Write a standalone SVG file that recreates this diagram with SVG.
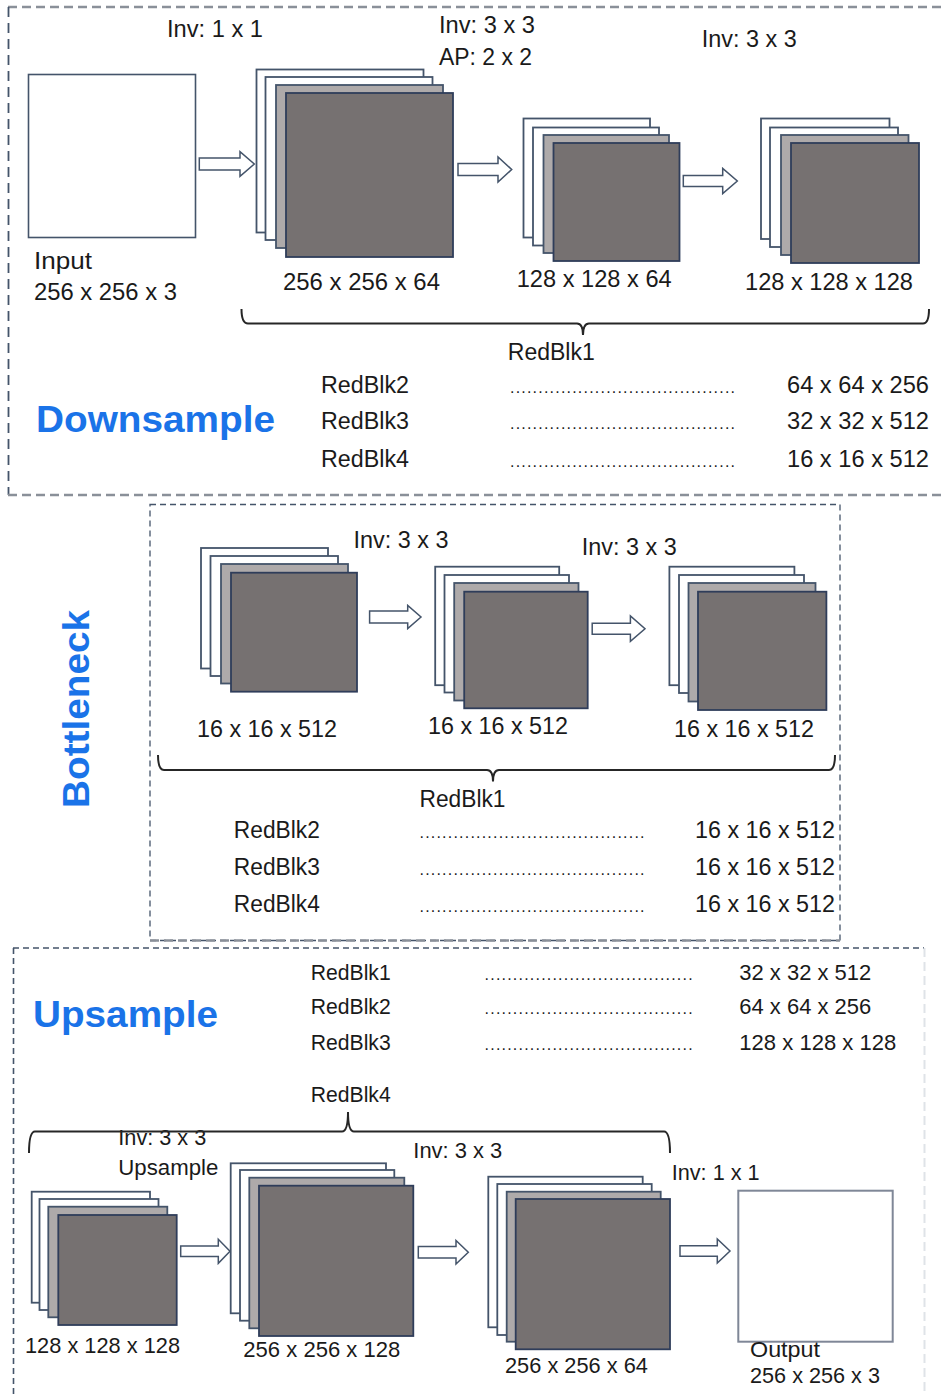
<svg xmlns="http://www.w3.org/2000/svg" width="944" height="1395" viewBox="0 0 944 1395">
  <style>
    .bg { fill: #ffffff; }
    .l1 { fill: #ffffff; stroke: #44546a; stroke-width: 1.8; }
    .l2 { fill: #ffffff; stroke: #44546a; stroke-width: 1.8; }
    .l3 { fill: #aeaaaa; stroke: #44546a; stroke-width: 1.8; }
    .l4 { fill: #767171; stroke: #2f3d5a; stroke-width: 1.8; }
    .io { fill: #ffffff; stroke: #44546a; stroke-width: 1.6; }
    .io-out { fill: #ffffff; stroke: #7f8797; stroke-width: 2; }
    .arrow { fill: #ffffff; stroke: #44546a; stroke-width: 1.5; stroke-linejoin: miter; }
    .brace { fill: none; stroke: #262626; stroke-width: 2; }
    .fr-gray { fill: none; stroke: #8a9099; stroke-width: 2.4; stroke-dasharray: 9 5; }
    .fr-dark { fill: none; stroke: #44546a; stroke-width: 1.8; stroke-dasharray: 10 6; }
    .fr-thin { fill: none; stroke: #44546a; stroke-width: 1.3; stroke-dasharray: 6 4; }
    .fr-light { fill: none; stroke: #dfe3e8; stroke-width: 2; stroke-dasharray: 9 5; }
    text { font-family: "Liberation Sans", Arial, sans-serif; fill: #1a1a1a; }
    .t { font-size: 23.5px; }
    .s { font-size: 22px; }
    .dots { font-size: 16px; }
    .title { font-family: "Liberation Sans", Arial, sans-serif; font-weight: bold; font-size: 37px; fill: #1a73e8; }
  </style>

  <rect class="bg" x="0" y="0" width="944" height="1395"/>

  <!-- section frames -->
  <g id="frames">
    <line class="fr-gray" x1="8" y1="7" x2="944" y2="7"/>
    <line class="fr-dark" x1="8.5" y1="7" x2="8.5" y2="495"/>
    <line class="fr-gray" x1="8" y1="495" x2="944" y2="495"/>

    <rect class="fr-thin" x="150" y="504.5" width="690" height="436"/>
    <line class="fr-gray" x1="150" y1="940.5" x2="840" y2="940.5"/>

    <line class="fr-thin" x1="13" y1="948" x2="924" y2="948" style="stroke-width:1.6"/>
    <line class="fr-thin" x1="13.5" y1="948" x2="13.5" y2="1395" style="stroke-width:1.6"/>
    <line class="fr-light" x1="924.5" y1="948" x2="924.5" y2="1395"/>
  </g>

  <!-- ===== Downsample ===== -->
  <g id="downsample-title">
    <text class="title" x="36" y="432" textLength="239" lengthAdjust="spacingAndGlyphs">Downsample</text>
  </g>

  <g id="input">
    <rect class="io" x="28.5" y="74.5" width="167" height="163"/>
    <text class="t" x="34" y="269" textLength="58" lengthAdjust="spacingAndGlyphs">Input</text>
    <text class="t" x="34" y="300" textLength="143" lengthAdjust="spacingAndGlyphs">256 x 256 x 3</text>
  </g>

  <g id="down-fm1">
    <rect class="l1" x="256.5" y="69.5" width="167" height="163"/>
    <rect class="l2" x="265.5" y="77" width="167" height="163"/>
    <rect class="l3" x="276" y="85" width="167" height="163"/>
    <rect class="l4" x="286" y="93" width="167" height="164"/>
    <text class="t" x="283" y="290" textLength="157" lengthAdjust="spacingAndGlyphs">256 x 256 x 64</text>
  </g>

  <g id="down-fm2">
    <rect class="l1" x="523.5" y="118.5" width="126.5" height="119"/>
    <rect class="l2" x="533" y="127.5" width="126" height="118"/>
    <rect class="l3" x="543.5" y="135" width="125.5" height="118"/>
    <rect class="l4" x="553.5" y="143" width="126" height="118"/>
    <text class="t" x="516.7" y="287" textLength="155" lengthAdjust="spacingAndGlyphs">128 x 128 x 64</text>
  </g>

  <g id="down-fm3">
    <rect class="l1" x="761" y="118.5" width="128.5" height="120.5"/>
    <rect class="l2" x="770" y="127.5" width="128" height="119.5"/>
    <rect class="l3" x="781" y="135" width="127.5" height="120"/>
    <rect class="l4" x="791" y="143" width="128" height="120"/>
    <text class="t" x="745" y="290" textLength="168" lengthAdjust="spacingAndGlyphs">128 x 128 x 128</text>
  </g>

  <g id="down-ops">
    <text class="t" x="167" y="37" textLength="96" lengthAdjust="spacingAndGlyphs">Inv: 1 x 1</text>
    <text class="t" x="439" y="33" textLength="96" lengthAdjust="spacingAndGlyphs">Inv: 3 x 3</text>
    <text class="t" x="439" y="65" textLength="93" lengthAdjust="spacingAndGlyphs">AP: 2 x 2</text>
    <text class="t" x="701.7" y="47" textLength="95" lengthAdjust="spacingAndGlyphs">Inv: 3 x 3</text>
  </g>

  <g id="down-blocks">
    <text class="t" x="507.8" y="360" textLength="87" lengthAdjust="spacingAndGlyphs">RedBlk1</text>
    <text class="t" x="321" y="393" textLength="88" lengthAdjust="spacingAndGlyphs">RedBlk2</text>
    <text class="t" x="321" y="429" textLength="88" lengthAdjust="spacingAndGlyphs">RedBlk3</text>
    <text class="t" x="321" y="467" textLength="88" lengthAdjust="spacingAndGlyphs">RedBlk4</text>
    <text class="dots" x="510" y="393" textLength="225" lengthAdjust="spacing">........................................</text>
    <text class="dots" x="510" y="429" textLength="225" lengthAdjust="spacing">........................................</text>
    <text class="dots" x="510" y="467" textLength="225" lengthAdjust="spacing">........................................</text>
    <text class="t" x="787" y="393" textLength="142" lengthAdjust="spacingAndGlyphs">64 x 64 x 256</text>
    <text class="t" x="787" y="429" textLength="142" lengthAdjust="spacingAndGlyphs">32 x 32 x 512</text>
    <text class="t" x="787" y="467" textLength="142" lengthAdjust="spacingAndGlyphs">16 x 16 x 512</text>
  </g>

  <!-- ===== Bottleneck ===== -->
  <g id="bottleneck-title">
    <text class="title" transform="translate(89,808) rotate(-90)" x="0" y="0" textLength="198" lengthAdjust="spacingAndGlyphs">Bottleneck</text>
  </g>

  <g id="bottle-fm1">
    <rect class="l1" x="201" y="548" width="127" height="120.5"/>
    <rect class="l2" x="210.5" y="556" width="127.5" height="120"/>
    <rect class="l3" x="221" y="564" width="127" height="119.5"/>
    <rect class="l4" x="231" y="572.7" width="126" height="119"/>
    <text class="t" x="197" y="737" textLength="140" lengthAdjust="spacingAndGlyphs">16 x 16 x 512</text>
  </g>

  <g id="bottle-fm2">
    <rect class="l1" x="435.2" y="566.7" width="124" height="118.5"/>
    <rect class="l2" x="444.5" y="575" width="124.5" height="117.5"/>
    <rect class="l3" x="454.2" y="583" width="124.3" height="117.5"/>
    <rect class="l4" x="464.2" y="591.7" width="123.5" height="116.6"/>
    <text class="t" x="428" y="734" textLength="140" lengthAdjust="spacingAndGlyphs">16 x 16 x 512</text>
  </g>

  <g id="bottle-fm3">
    <rect class="l1" x="669.4" y="566.7" width="125" height="118.5"/>
    <rect class="l2" x="679" y="575" width="125" height="118"/>
    <rect class="l3" x="688.5" y="583" width="127" height="118.5"/>
    <rect class="l4" x="698" y="591.7" width="128.4" height="118.3"/>
    <text class="t" x="674" y="737" textLength="140" lengthAdjust="spacingAndGlyphs">16 x 16 x 512</text>
  </g>

  <g id="bottle-ops">
    <text class="t" x="353.5" y="548" textLength="95" lengthAdjust="spacingAndGlyphs">Inv: 3 x 3</text>
    <text class="t" x="581.7" y="555" textLength="95" lengthAdjust="spacingAndGlyphs">Inv: 3 x 3</text>
  </g>

  <g id="bottle-blocks">
    <text class="t" x="419.5" y="807" textLength="86" lengthAdjust="spacingAndGlyphs">RedBlk1</text>
    <text class="t" x="233.8" y="838" textLength="86" lengthAdjust="spacingAndGlyphs">RedBlk2</text>
    <text class="t" x="233.8" y="875" textLength="86" lengthAdjust="spacingAndGlyphs">RedBlk3</text>
    <text class="t" x="233.8" y="912" textLength="86" lengthAdjust="spacingAndGlyphs">RedBlk4</text>
    <text class="dots" x="419.5" y="838" textLength="225" lengthAdjust="spacing">........................................</text>
    <text class="dots" x="419.5" y="875" textLength="225" lengthAdjust="spacing">........................................</text>
    <text class="dots" x="419.5" y="912" textLength="225" lengthAdjust="spacing">........................................</text>
    <text class="t" x="695" y="838" textLength="140" lengthAdjust="spacingAndGlyphs">16 x 16 x 512</text>
    <text class="t" x="695" y="875" textLength="140" lengthAdjust="spacingAndGlyphs">16 x 16 x 512</text>
    <text class="t" x="695" y="912" textLength="140" lengthAdjust="spacingAndGlyphs">16 x 16 x 512</text>
  </g>

  <!-- ===== Upsample ===== -->
  <g id="upsample-title">
    <text class="title" x="33" y="1027" textLength="185" lengthAdjust="spacingAndGlyphs">Upsample</text>
  </g>

  <g id="up-blocks">
    <text class="s" x="310.7" y="980" textLength="80" lengthAdjust="spacingAndGlyphs">RedBlk1</text>
    <text class="s" x="310.7" y="1014" textLength="80" lengthAdjust="spacingAndGlyphs">RedBlk2</text>
    <text class="s" x="310.7" y="1050" textLength="80" lengthAdjust="spacingAndGlyphs">RedBlk3</text>
    <text class="dots" x="484.6" y="980" textLength="208" lengthAdjust="spacing">.....................................</text>
    <text class="dots" x="484.6" y="1014" textLength="208" lengthAdjust="spacing">.....................................</text>
    <text class="dots" x="484.6" y="1050" textLength="208" lengthAdjust="spacing">.....................................</text>
    <text class="s" x="739.3" y="980" textLength="132" lengthAdjust="spacingAndGlyphs">32 x 32 x 512</text>
    <text class="s" x="739.3" y="1014" textLength="132" lengthAdjust="spacingAndGlyphs">64 x 64 x 256</text>
    <text class="s" x="739.3" y="1050" textLength="157" lengthAdjust="spacingAndGlyphs">128 x 128 x 128</text>
    <text class="s" x="310.7" y="1102" textLength="80" lengthAdjust="spacingAndGlyphs">RedBlk4</text>
  </g>

  <g id="up-ops">
    <text class="s" x="118.3" y="1145" textLength="88" lengthAdjust="spacingAndGlyphs">Inv: 3 x 3</text>
    <text class="s" x="118.3" y="1175" textLength="100" lengthAdjust="spacingAndGlyphs">Upsample</text>
    <text class="s" x="413.3" y="1158" textLength="89" lengthAdjust="spacingAndGlyphs">Inv: 3 x 3</text>
    <text class="s" x="671.7" y="1180" textLength="88" lengthAdjust="spacingAndGlyphs">Inv: 1 x 1</text>
  </g>

  <g id="up-fm1">
    <rect class="l1" x="31.7" y="1191.7" width="118.3" height="111"/>
    <rect class="l2" x="39.5" y="1199" width="119" height="111"/>
    <rect class="l3" x="48.3" y="1206.7" width="119" height="110.6"/>
    <rect class="l4" x="58.3" y="1215" width="118.4" height="110"/>
    <text class="s" x="25" y="1353" textLength="155" lengthAdjust="spacingAndGlyphs">128 x 128 x 128</text>
  </g>

  <g id="up-fm2">
    <rect class="l1" x="230.7" y="1163.3" width="155.3" height="150"/>
    <rect class="l2" x="240" y="1170" width="154.3" height="150.7"/>
    <rect class="l3" x="249.3" y="1177.7" width="155" height="150.6"/>
    <rect class="l4" x="259" y="1185.7" width="154.3" height="150.3"/>
    <text class="s" x="243.3" y="1357" textLength="157" lengthAdjust="spacingAndGlyphs">256 x 256 x 128</text>
  </g>

  <g id="up-fm3">
    <rect class="l1" x="488.3" y="1176.7" width="154.4" height="150.6"/>
    <rect class="l2" x="497.3" y="1184" width="154.4" height="151"/>
    <rect class="l3" x="506.7" y="1191.7" width="154" height="150"/>
    <rect class="l4" x="515.7" y="1199" width="154.3" height="150.3"/>
    <text class="s" x="505" y="1373" textLength="143" lengthAdjust="spacingAndGlyphs">256 x 256 x 64</text>
  </g>

  <g id="output">
    <rect class="io-out" x="738.3" y="1190.7" width="154.4" height="151"/>
    <text class="s" x="750" y="1357" textLength="70" lengthAdjust="spacingAndGlyphs">Output</text>
    <text class="s" x="750" y="1383" textLength="130" lengthAdjust="spacingAndGlyphs">256 x 256 x 3</text>
  </g>

  <!-- connectors: block arrows and grouping braces -->
  <g id="connectors">
    <path class="arrow" d="M199.3,158 H240 V151.7 L254.3,164 L240,176.3 V170 H199.3 Z"/>
    <path class="arrow" d="M458,163.5 H498 V157 L511.7,169.5 L498,182 V175.5 H458 Z"/>
    <path class="arrow" d="M683.3,175.5 H722.7 V168.5 L737.3,181 L722.7,193.5 V186.5 H683.3 Z"/>

    <path class="arrow" d="M369.6,611 H407.7 V605.5 L421,617 L407.7,628.5 V623 H369.6 Z"/>
    <path class="arrow" d="M592.2,623.2 H630.4 V616 L645,628.7 L630.4,641.4 V634.2 H592.2 Z"/>

    <path class="arrow" d="M180.7,1246 H218.3 V1239.3 L230,1251.3 L218.3,1263.3 V1256.6 H180.7 Z"/>
    <path class="arrow" d="M418.3,1246.5 H456 V1240.5 L468.3,1252.3 L456,1264 V1258 H418.3 Z"/>
    <path class="arrow" d="M680,1245.8 H717.3 V1239 L730,1251 L717.3,1263 V1256.3 H680 Z"/>

    <path class="brace" d="M241.5,309 Q241.5,323.5 248,323.5 L577,323.5 Q583,323.5 583,335 Q583,323.5 589,323.5 L923,323.5 Q929,323.5 929,309"/>
    <path class="brace" d="M158,755 Q158,770 164,770 L487,770 Q493,770 493,781.5 Q493,770 499,770 L829,770 Q835,770 835,755"/>
    <path class="brace" d="M29,1153 Q29,1131.5 35,1131.5 L342,1131.5 Q348,1131.5 348,1112 Q348,1131.5 354,1131.5 L664,1131.5 Q670,1131.5 670,1153"/>
  </g>
</svg>
